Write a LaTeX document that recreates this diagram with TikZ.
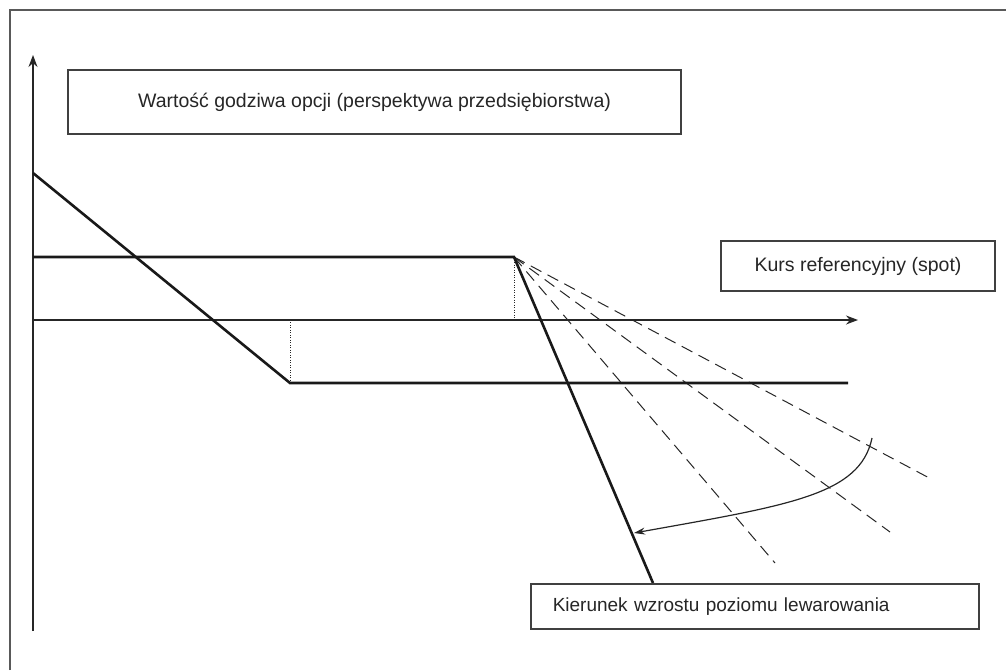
\documentclass[tikz,border=0pt]{standalone}
\usepackage{fontspec}
\setmainfont{Liberation Sans}
\usetikzlibrary{arrows.meta}
\begin{document}
\begin{tikzpicture}[x=1pt,y=-1pt,
  frame/.style={draw=black!65,line width=2pt},
  axis/.style={draw=black!85,line width=1.2pt},
  payoff/.style={draw=black!90,line width=2.6pt},
  guide/.style={draw=black!85,line width=1pt,dash pattern=on 1pt off 1.5pt},
  scenario/.style={draw=black!85,line width=1pt,dash pattern=on 12pt off 7pt},
  labelbox/.style={draw=black!75,line width=1.5pt,fill=white,inner sep=0pt,
    font=\fontsize{19.5}{22}\selectfont,text=black!85},
  tip/.style={-{Stealth[length=12pt,width=9pt]}}
]
\useasboundingbox (0,0) rectangle (1006,670);
% page frame (left and top edges)
\draw[frame] (10,670) -- (10,10) -- (1006,10);

% axes
\coordinate (ybot) at (33,631);
\coordinate (ytop) at (33,55);
\coordinate (xorig) at (33,320);
\coordinate (xend) at (858,320);
\draw[axis,tip] (ybot) -- (ytop);
\draw[axis,tip] (xorig) -- (xend);

% key points of the payoff profiles
\coordinate (capstart) at (33,257);
\coordinate (apex) at (514,257);
\coordinate (apexfoot) at (514,320);
\coordinate (linstart) at (33,173);
\coordinate (knee) at (290,383);
\coordinate (kneefoot) at (290,320);
\coordinate (floorend) at (848,383);
\coordinate (steepend) at (653,583);

% scenario lines fanning out from the apex
\coordinate (sA) at (933,480);
\coordinate (sB) at (890,532);
\coordinate (sC) at (775,563);
\draw[scenario] (apex) -- (sA);
\draw[scenario] (apex) -- (sB);
\draw[scenario] (apex) -- (sC);

% dotted guides down to the axis
\draw[guide] (apex) -- (apexfoot);
\draw[guide] (knee) -- (kneefoot);

% solid profiles
\draw[payoff] (capstart) -- (apex) -- (steepend);
\draw[payoff] (linstart) -- (knee) -- (floorend);

% curved arrow pointing towards higher leverage
\coordinate (arcstart) at (872,438);
\coordinate (arcend) at (634,533);
\draw[draw=black!85,line width=1.2pt,-{Stealth[length=11pt,width=7pt]}]
  (arcstart) .. controls (860,495) and (790,505) .. (arcend);

% labels
\node[labelbox,minimum width=613pt,minimum height=64pt] (fv) at (374.5,102)
  {Wartość godziwa opcji (perspektywa przedsiębiorstwa)};
\node[labelbox,minimum width=274pt,minimum height=50pt] (spot) at (858,266)
  {Kurs referencyjny (spot)};
\node[labelbox,font=\fontsize{19}{22}\selectfont,text width=404pt,inner xsep=22pt,
  align=left,minimum height=45pt,anchor=north west] (lev) at (530,583)
  {Kierunek wzrostu poziomu lewarowania};
\end{tikzpicture}
\end{document}
